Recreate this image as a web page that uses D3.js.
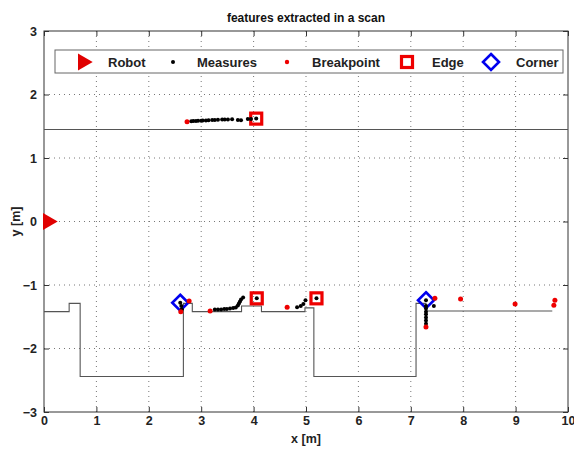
<!DOCTYPE html>
<html><head><meta charset="utf-8">
<script src="https://cdn.jsdelivr.net/npm/d3@7"></script>
<style>body{margin:0;background:#fff}text{font-family:"Liberation Sans",Arial,sans-serif;font-weight:bold}</style>
</head><body><svg id="c" width="574" height="449"></svg>
<script>
const xTicks = [0,1,2,3,4,5,6,7,8,9,10];
const yTicks = [-3,-2,-1,0,1,2,3];
const title = "features extracted in a scan";
const xLabel = "x [m]", yLabel = "y [m]";
const legendNames = ["Robot","Measures","Breakpoint","Edge","Corner"];

// environment walls
const wallX = [0,0.48,0.48,0.69,0.69,2.66,2.66,2.83,2.83,3.77,3.77,4.15,4.15,4.98,4.98,5.15,5.15,7.1,7.1,7.29,7.29,9.7];
const wallY = [-1.42,-1.42,-1.29,-1.29,-2.44,-2.44,-1.29,-1.29,-1.42,-1.42,-1.33,-1.33,-1.42,-1.42,-1.36,-1.36,-2.44,-2.44,-1.29,-1.29,-1.41,-1.41];
const upperWallX = [0,10];
const upperWallY = [1.45,1.45];

const robotX = [0], robotY = [0];
const measuresX = [2.81,2.85,2.90,2.94,3.00,3.03,3.09,3.14,3.21,3.26,3.32,3.40,3.45,3.51,3.59,3.70,3.76,3.89,3.95,4.05,
  2.60,2.62,2.63,
  3.26,3.32,3.38,3.44,3.49,3.55,3.61,3.66,3.70,3.72,3.74,3.76,3.80,4.06,
  4.83,4.90,4.95,4.99,5.20,
  7.29,7.44,7.29,7.29,7.29,7.29,7.29,7.29,7.29];
const measuresY = [1.580,1.583,1.583,1.586,1.588,1.590,1.590,1.593,1.597,1.598,1.601,1.606,1.606,1.606,1.609,1.598,1.593,1.614,1.614,1.622,
  -1.28,-1.33,-1.38,
  -1.386,-1.386,-1.386,-1.378,-1.378,-1.370,-1.362,-1.354,-1.323,-1.290,-1.260,-1.228,-1.197,-1.21,
  -1.35,-1.33,-1.30,-1.24,-1.21,
  -1.24,-1.33,-1.33,-1.37,-1.42,-1.46,-1.51,-1.56,-1.61];
const breakX = [2.73,2.77,2.61,3.17,4.64,7.46,7.29,7.95,8.99,9.75,9.73];
const breakY = [1.57,-1.25,-1.42,-1.41,-1.35,-1.21,-1.66,-1.22,-1.30,-1.24,-1.32];
const edgeX = [4.05,4.06,5.20];
const edgeY = [1.62,-1.21,-1.21];
const cornerX = [2.60,7.29];
const cornerY = [-1.28,-1.24];

const svg = d3.select("#c");
const L=44,R=568,T=31,B=412;
const x = d3.scaleLinear().domain([0,10]).range([L,R]);
const y = d3.scaleLinear().domain([-3,3]).range([B,T]);

// grid
const g = svg.append("g");
g.selectAll(".gx").data(xTicks.slice(1,-1)).enter().append("line")
  .attr("x1",d=>x(d)).attr("x2",d=>x(d)).attr("y1",T).attr("y2",B)
  .attr("stroke","#777").attr("stroke-width",1).attr("stroke-dasharray","1,4");
g.selectAll(".gy").data(yTicks.slice(1,-1)).enter().append("line")
  .attr("y1",d=>y(d)).attr("y2",d=>y(d)).attr("x1",L).attr("x2",R)
  .attr("stroke","#777").attr("stroke-width",1).attr("stroke-dasharray","1,4");

// axes
const ax = svg.append("g").attr("transform",`translate(0,${B})`)
  .call(d3.axisBottom(x).tickValues(xTicks).tickSize(-5).tickPadding(4).tickFormat(d3.format("d")));
const ay = svg.append("g").attr("transform",`translate(${L},0)`)
  .call(d3.axisLeft(y).tickValues(yTicks).tickSize(-5).tickPadding(7).tickFormat(d=>d<0?"\u2212"+Math.abs(d):d));
const at = svg.append("g").attr("transform",`translate(0,${T})`)
  .call(d3.axisTop(x).tickValues(xTicks).tickSize(-5).tickFormat(""));
const ar = svg.append("g").attr("transform",`translate(${R},0)`)
  .call(d3.axisRight(y).tickValues(yTicks).tickSize(-5).tickFormat(""));
[ax,ay,at,ar].forEach(a=>{a.select(".domain").remove();a.selectAll("line").attr("stroke","#333");
  a.selectAll("text").attr("font-size",12.5).attr("font-weight","bold").attr("fill","#222").attr("font-family","Liberation Sans, Arial, sans-serif");});
svg.append("rect").attr("x",L).attr("y",T).attr("width",R-L).attr("height",B-T)
  .attr("fill","none").attr("stroke","#333").attr("stroke-width",1);

// walls
const line = d3.line().x(d=>x(d[0])).y(d=>y(d[1]));
svg.append("path").datum(wallX.map((v,i)=>[v,wallY[i]])).attr("d",line)
  .attr("fill","none").attr("stroke","#555").attr("stroke-width",1.1);
svg.append("path").datum(upperWallX.map((v,i)=>[v,upperWallY[i]])).attr("d",line)
  .attr("fill","none").attr("stroke","#555").attr("stroke-width",1.1);

// markers
const tri = (cx,cy,s)=>`M${cx-s*0.5},${cy-s*0.6}L${cx+s*0.55},${cy}L${cx-s*0.5},${cy+s*0.6}Z`;
function drawRobot(sel,cx,cy){sel.append("path").attr("d",tri(cx,cy,14)).attr("fill","#e00000");}
function drawEdge(sel,cx,cy){sel.append("rect").attr("x",cx-5.5).attr("y",cy-5.5).attr("width",11).attr("height",11)
  .attr("fill","none").attr("stroke","#ee0000").attr("stroke-width",3.2);}
function drawCorner(sel,cx,cy){sel.append("path").attr("d",`M${cx},${cy-8}L${cx+8},${cy}L${cx},${cy+8}L${cx-8},${cy}Z`)
  .attr("fill","none").attr("stroke","#0000ee").attr("stroke-width",2.6);}

const m = svg.append("g");
edgeX.forEach((v,i)=>drawEdge(m,x(v),y(edgeY[i])));
cornerX.forEach((v,i)=>drawCorner(m,x(v),y(cornerY[i])));
m.selectAll(".ms").data(measuresX.map((v,i)=>[v,measuresY[i]])).enter().append("circle")
  .attr("cx",d=>x(d[0])).attr("cy",d=>y(d[1])).attr("r",2).attr("fill","#000");
m.selectAll(".bp").data(breakX.map((v,i)=>[v,breakY[i]])).enter().append("circle")
  .attr("cx",d=>x(d[0])).attr("cy",d=>y(d[1])).attr("r",2.5).attr("fill","#ee0000");
robotX.forEach((v,i)=>drawRobot(m,x(v)+6,y(robotY[i])));

// legend
const lg = svg.append("g");
lg.append("rect").attr("x",55).attr("y",50).attr("width",508).attr("height",23)
  .attr("fill","#fff").attr("stroke","#666").attr("stroke-width",1);
const lyc = 62;
drawRobot(lg,85,lyc);
lg.append("circle").attr("cx",173).attr("cy",lyc).attr("r",2).attr("fill","#000");
lg.append("circle").attr("cx",287).attr("cy",lyc).attr("r",2.2).attr("fill","#ee0000");
drawEdge(lg,407,lyc);
drawCorner(lg,491,lyc);
const lx = [108,197,312,432,516];
legendNames.forEach((n,i)=>lg.append("text").attr("x",lx[i]).attr("y",lyc+4.5).attr("font-size",13).attr("fill","#222").text(n));

// title & labels
svg.append("text").attr("x",(L+R)/2).attr("y",22).attr("text-anchor","middle").attr("font-size",12).attr("fill","#111").text(title);
svg.append("text").attr("x",(L+R)/2).attr("y",443).attr("text-anchor","middle").attr("font-size",12.5).attr("fill","#222").text(xLabel);
svg.append("text").attr("transform",`translate(20,${(T+B)/2}) rotate(-90)`).attr("text-anchor","middle").attr("font-size",12.5).attr("fill","#222").text(yLabel);
</script></body></html>
